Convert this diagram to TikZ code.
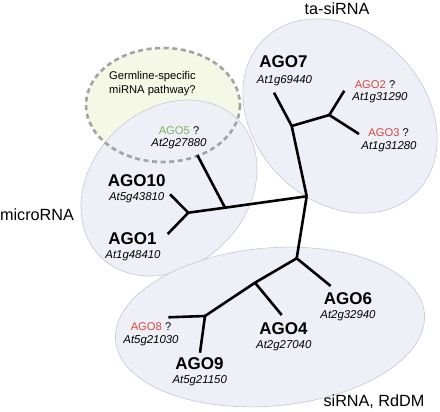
\documentclass[tikz,border=0pt]{standalone}
\usepackage{fontspec}
\setmainfont{Liberation Sans}
\definecolor{groupfill}{HTML}{EFEFF7}
\definecolor{groupline}{HTML}{C4C6DC}
\definecolor{germfill}{HTML}{F5F8E5}
\definecolor{germline}{HTML}{A3A3A3}
\definecolor{agored}{HTML}{D7463B}
\definecolor{agogreen}{HTML}{7AB45C}
\begin{document}
\begin{tikzpicture}[x=1pt,y=-1pt]
        \tikzstyle{group}=[fill=groupfill,draw=groupline,line width=0.6pt]
        \tikzstyle{branch}=[draw,line width=2.6pt,line join=round]
        \tikzstyle{ago}=[font=\fontsize{17}{19}\selectfont\bfseries,inner sep=0pt]
        \tikzstyle{gene}=[font=\fontsize{11.4}{13}\selectfont\itshape,inner sep=0pt]
        \tikzstyle{weak}=[font=\fontsize{11.2}{13.5}\selectfont,inner sep=0pt]
        \tikzstyle{pathway}=[font=\fontsize{16.2}{18}\selectfont,inner sep=0pt]
        \useasboundingbox (0,0) rectangle (440,412);
       % groups
       \begin{scope}
         \fill[germfill] (163,105) ellipse [x radius=77, y radius=57];
         \path[group,rotate around={45:(169,188)}] (169,188) ellipse [x radius=97, y radius=78];
         \path[group,rotate around={-45:(340,116)}] (340,116) ellipse [x radius=108, y radius=85];
         \path[group,rotate around={5:(270,327)}] (270,327) ellipse [x radius=155, y radius=79];
         \draw[germline,line width=2.6pt,dash pattern=on 5pt off 3.6pt] (163,105) ellipse [x radius=77, y radius=57];
       \end{scope}
       % tree
       \begin{scope}
         \coordinate (root) at (306.7,196.3);
         \coordinate (j10) at (188.3,212.7);
         \coordinate (j5) at (225,207.7);
         \coordinate (l5) at (197.3,155);
         \coordinate (l10) at (170,194.3);
         \coordinate (l1) at (167.7,234);
         \coordinate (j7) at (291.7,126);
         \coordinate (l7) at (274,92.7);
         \coordinate (j23) at (329.3,115);
         \coordinate (l2) at (344.3,90.7);
         \coordinate (l3) at (359,134);
         \coordinate (j6) at (296.7,258.3);
         \coordinate (l6) at (330.7,286);
         \coordinate (j4) at (255,282.7);
         \coordinate (l4) at (281.7,315);
         \coordinate (j89) at (205,316);
         \coordinate (l8) at (168.3,317.3);
         \coordinate (l9) at (200,352.7);

         \path[branch] (root) -- (j5) -- (j10);
         \path[branch] (j5) -- (l5);
         \path[branch] (l10) -- (j10) -- (l1);
         \path[branch] (root) -- (j7) -- (l7);
         \path[branch] (j7) -- (j23);
         \path[branch] (l2) -- (j23) -- (l3);
         \path[branch] (root) -- (j6) -- (l6);
         \path[branch] (j6) -- (j4) -- (j89);
         \path[branch] (j4) -- (l4);
         \path[branch] (l8) -- (j89) -- (l9);
       \end{scope}
       % labels
       \node[pathway] (tasi) at (337,9) {ta-siRNA};
       \node[pathway] (mirna) at (37,215) {microRNA};
       \node[pathway] (sirna) at (374,402) {siRNA, RdDM};
       \node[weak,align=left,anchor=west] (germ) at (109,83.5) {Germline-specific\\miRNA pathway?};

       \node[ago] (ago7) at (283.5,62) {AGO7};
       \node[gene] (g7) at (284.5,80.5) {At1g69440};
       \node[weak] (ago2) at (375,85) {\textcolor{agored}{AGO2} ?};
       \node[gene] (g2) at (380,98) {At1g31290};
       \node[weak] (ago3) at (388.7,133) {\textcolor{agored}{AGO3} ?};
       \node[gene] (g3) at (389,146.5) {At1g31280};
       \node[weak] (ago5) at (179,130.7) {\textcolor{agogreen}{AGO5} ?};
       \node[gene] (g5) at (179,143.8) {At2g27880};
       \node[ago] (ago10) at (136.7,180.7) {AGO10};
       \node[gene] (g10) at (136.7,197.8) {At5g43810};
       \node[ago] (ago1) at (132.5,238.3) {AGO1};
       \node[gene] (g1) at (133,255.5) {At1g48410};
       \node[weak] (ago8) at (151,326.7) {\textcolor{agored}{AGO8} ?};
       \node[gene] (g8) at (151,340.5) {At5g21030};
       \node[ago] (ago9) at (199.5,364) {AGO9};
       \node[gene] (g9) at (199.7,381) {At5g21150};
       \node[ago] (ago4) at (283.5,329) {AGO4};
       \node[gene] (g4) at (283.8,346) {At2g27040};
       \node[ago] (ago6) at (348,298.3) {AGO6};
       \node[gene] (g6) at (348,315.5) {At2g32940};
\end{tikzpicture}
\end{document}
